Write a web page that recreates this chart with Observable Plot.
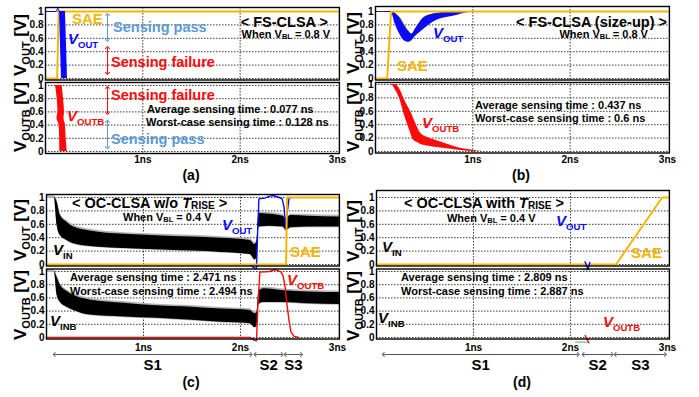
<!DOCTYPE html>
<html><head><meta charset="utf-8">
<script src="https://cdn.jsdelivr.net/npm/d3@7"></script>
<script src="https://cdn.jsdelivr.net/npm/@observablehq/plot@0.6"></script>
<style>
body{margin:0;background:#fff;}
#fig{position:relative;width:699px;height:397px;overflow:hidden;background:#fff;}
</style></head><body><div id="fig"></div>
<script>
// ---------------- data ----------------
const timeTicks = [1, 2, 3];
const voltTicks = [0, 0.2, 0.4, 0.6, 0.8, 1];
const phaseLabels = ["S1", "S2", "S3"];

// (a) FS-CLSA
const aSaeT = [0, 0.12, 0.135, 3.02];
const aSaeV = [0, 0, 1, 1];
const aOutTopT = [0, 0.11, 0.125, 0.145];
const aOutTopV = [1, 1, 1.05, 1];
const aOutBandV = [1, 0.5, 0];
const aOutEarly = [0.144, 0.154, 0.164];
const aOutLate = [0.205, 0.216, 0.226];
const aOutbBandV = [1, 0.8, 0.6, 0.5, 0.4, 0.2, 0];
const aOutbEarly = [0.103, 0.12, 0.128, 0.118, 0.14, 0.145, 0.147];
const aOutbLate = [0.171, 0.185, 0.195, 0.19, 0.205, 0.212, 0.223];

// (b) FS-CLSA (size-up)
const bSaeT = [0, 0.12, 0.16, 3.02];
const bSaeV = [0, 0, 1, 1];
const bOutT  = [0, 0.16, 0.2, 0.25, 0.29, 0.34, 0.37, 0.42, 0.5, 0.63, 0.8, 0.97, 1.1];
const bOutLo = [1, 1, 0.82, 0.66, 0.57, 0.54, 0.56, 0.64, 0.74, 0.87, 0.93, 0.99, 1];
const bOutHi = [1, 1, 0.97, 0.9, 0.8, 0.7, 0.66, 0.76, 0.91, 0.97, 0.99, 1, 1];
const bOutbT  = [0, 0.16, 0.2, 0.25, 0.29, 0.33, 0.36, 0.39, 0.42, 0.46, 0.55, 0.63, 0.8, 0.9, 1.0, 1.1];
const bOutbLo = [1, 1, 0.93, 0.78, 0.58, 0.4, 0.28, 0.17, 0.14, 0.11, 0.08, 0.06, 0.03, 0.01, 0, 0];
const bOutbHi = [1, 1, 1, 0.93, 0.8, 0.68, 0.6, 0.5, 0.4, 0.28, 0.2, 0.16, 0.08, 0.04, 0.02, 0];

// (c) OC-CLSA w/o T_RISE
const cSaeT = [0, 2.47, 2.48, 3.02];
const cSaeV = [0, 0, 1, 1];
const cInT  = [0, 0.08, 0.11, 0.144, 0.21, 0.28, 0.45, 0.8, 1.14, 1.5, 1.8, 2.1, 2.15, 2.17, 2.19, 2.3, 2.44, 2.47, 2.52, 2.7, 3.02];
const cInLo = [1, 1, 0.58, 0.43, 0.36, 0.31, 0.27, 0.24, 0.22, 0.2, 0.18, 0.15, 0.07, 0.1, 0.56, 0.57, 0.56, 0.51, 0.55, 0.56, 0.56];
const cInHi = [1, 1, 0.93, 0.73, 0.63, 0.56, 0.5, 0.45, 0.43, 0.41, 0.39, 0.36, 0.3, 0.35, 0.76, 0.75, 0.72, 0.68, 0.73, 0.72, 0.71];
const cOutT = [2.1, 2.14, 2.165, 2.175, 2.19, 2.25, 2.3, 2.34, 2.4, 2.43, 2.45, 2.465, 2.48, 2.5, 2.52];
const cOutV = [0, -0.05, -0.06, 0.4, 0.98, 0.99, 1.02, 1.03, 1.0, 0.98, 0.85, 0.55, 0.75, 0.98, 1.0];
const cInbT  = [0, 0.08, 0.11, 0.144, 0.21, 0.28, 0.45, 0.8, 1.14, 1.5, 1.8, 2.1, 2.15, 2.17, 2.19, 2.24, 2.45, 2.7, 3.02];
const cInbLo = [1, 1, 0.64, 0.53, 0.46, 0.41, 0.34, 0.31, 0.29, 0.26, 0.23, 0.21, 0.15, 0.17, 0.5, 0.53, 0.53, 0.51, 0.5];
const cInbHi = [1, 1, 0.91, 0.79, 0.7, 0.64, 0.57, 0.52, 0.48, 0.46, 0.43, 0.41, 0.36, 0.38, 0.7, 0.74, 0.71, 0.69, 0.68];
const cOutbT = [0, 2.1, 2.14, 2.165, 2.18, 2.2, 2.3, 2.36, 2.42, 2.44, 2.46, 2.48, 2.5, 2.52, 2.55, 2.6];
const cOutbV = [0, 0, -0.04, -0.05, 0.5, 0.99, 1.0, 1.03, 0.99, 0.93, 0.77, 0.5, 0.26, 0.09, 0.02, 0];
const cPhaseStart = [0.08, 2.15, 2.46];
const cPhaseEnd   = [2.11, 2.43, 2.63];

// (d) OC-CLSA with T_RISE
const dSaeT = [0, 2.47, 2.945, 3.02];
const dSaeV = [0, 0, 1, 1];
const dOutT = [2.15, 2.18, 2.2];
const dOutV = [0.04, -0.07, 0.03];
const dGreenT = [2.12, 2.2];
const dGreenV = [-0.08, -0.08];
const dOutbT = [2.15, 2.17, 2.19];
const dOutbV = [0.03, -0.02, -0.08];
const dGreenbT = [2.05, 2.18];
const dGreenbV = [-0.07, -0.07];
const dPhaseStart = [0.07, 2.13, 2.46];
const dPhaseEnd   = [2.08, 2.43, 2.98];

// ---------------- helpers ----------------
const fig = document.getElementById("fig");
const FONT = '"Liberation Sans", Arial, sans-serif';
const ORANGE = "#f7b500", BLUE = "#0a0aff", RED = "#ff0a0a", LBLUE = "#5b9bd5", GRID = "#222";
const zip = (t, v) => t.map((x, i) => ({t: x, v: v[i]}));
const band = (t, lo, hi) => t.map((x, i) => ({t: x, lo: lo[i], hi: hi[i]}));
const vband = (v, e, l) => v.map((y, i) => ({v: y, e: e[i], l: l[i]}));

function sub(c) {
  const k = c.y0 - c.y1;
  const yDomain = [-(c.fb - c.y0) / k, 1 + (c.y1 - c.ft) / k];
  const plot = Plot.plot({
    width: c.width, height: c.height,
    marginLeft: c.fl - c.left, marginRight: c.left + c.width - c.fr,
    marginTop: c.ft - c.top, marginBottom: c.top + c.height - c.fb,
    style: {background: "transparent", overflow: "visible", fontFamily: FONT, fontWeight: "bold",
            fontSize: "10px", color: "#000", position: "absolute", left: c.left + "px", top: c.top + "px"},
    x: {domain: [0, 3.02], ticks: timeTicks, tickFormat: d => d + "ns", tickSize: 0,
        tickPadding: c.xPad ?? 0, axis: c.xPad == null ? null : "bottom", label: null},
    y: {domain: yDomain, ticks: voltTicks, tickFormat: d => String(d), tickSize: 0, tickPadding: 2, label: null},
    marks: [
      Plot.ruleY(voltTicks, {stroke: GRID, strokeDasharray: "1.5,1.5", strokeWidth: 0.9}),
      Plot.ruleX(timeTicks.slice(0, 2), {stroke: GRID, strokeDasharray: "1.5,1.5", strokeWidth: 0.9}),
      ...c.marks,
      Plot.frame({stroke: "#000", strokeWidth: 1.4})
    ]
  });
  fig.appendChild(plot);
  return {plot, left: c.left, top: c.top};
}

const vArrows = (t, pairs, color) => pairs.flatMap(([a, b]) => {
  const m = (a + b) / 2;
  return [
    Plot.link([0], {x1: () => t, x2: () => t, y1: () => m, y2: () => a, stroke: color, strokeWidth: 1, markerEnd: "arrow"}),
    Plot.link([0], {x1: () => t, x2: () => t, y1: () => m, y2: () => b, stroke: color, strokeWidth: 1, markerEnd: "arrow"})
  ];
});

function phaseMarks(start, end) {
  const segs = phaseLabels.map((s, i) => ({s, a: start[i], b: end[i], m: (start[i] + end[i]) / 2}));
  return [
    Plot.link(segs, {x1: "m", x2: "a", y1: () => 0, y2: () => 0, dy: 17, stroke: "#555", strokeWidth: 1, markerEnd: "arrow"}),
    Plot.link(segs, {x1: "m", x2: "b", y1: () => 0, y2: () => 0, dy: 17, stroke: "#555", strokeWidth: 1, markerEnd: "arrow"}),
    Plot.text(segs, {x: "m", y: () => 0, dy: 28, text: "s", fontSize: 15, fontWeight: "bold", fill: "#000"})
  ];
}

// ---------------- panels ----------------
const pA1 = sub({left: 0, top: 0, width: 345, height: 82, fl: 45, fr: 338.9, ft: 7, fb: 79.5, y1: 11, y0: 78, marks: [
  Plot.line(zip(aSaeT, aSaeV), {x: "t", y: "v", stroke: ORANGE, strokeWidth: 2}),
  Plot.line(zip(aOutTopT, aOutTopV), {x: "t", y: "v", stroke: BLUE, strokeWidth: 1}),
  Plot.areaX(vband(aOutBandV, aOutEarly, aOutLate), {y: "v", x1: "e", x2: "l", fill: BLUE}),
  ...vArrows(0.637, [[0.955, 0.567]], LBLUE),
  ...vArrows(0.637, [[0.46, 0.075]], RED)
]});
const pA2 = sub({left: 0, top: 80, width: 345, height: 92, fl: 45, fr: 338.9, ft: 82, fb: 153, y1: 85, y0: 151, xPad: 2, marks: [
  Plot.areaX(vband(aOutbBandV, aOutbEarly, aOutbLate), {y: "v", x1: "e", x2: "l", fill: RED, curve: "monotone-y"}),
  ...vArrows(0.637, [[0.97, 0.576]], RED),
  ...vArrows(0.637, [[0.455, 0.06]], LBLUE)
]});
const pB1 = sub({left: 345, top: 0, width: 354, height: 82, fl: 375, fr: 668.9, ft: 6, fb: 79.5, y1: 11, y0: 78, marks: [
  Plot.areaY(band(bOutT, bOutLo, bOutHi), {x: "t", y1: "lo", y2: "hi", fill: BLUE, curve: "monotone-x"}),
  Plot.line(zip(bOutT, bOutHi), {x: "t", y: "v", stroke: "#1a1a80", strokeWidth: 1, curve: "monotone-x"}),
  Plot.line(zip(bSaeT, bSaeV), {x: "t", y: "v", stroke: ORANGE, strokeWidth: 2})
]});
const pB2 = sub({left: 345, top: 80, width: 354, height: 92, fl: 375, fr: 668.9, ft: 82, fb: 152.5, y1: 84, y0: 151, xPad: 2.5, marks: [
  Plot.areaY(band(bOutbT, bOutbLo, bOutbHi), {x: "t", y1: "lo", y2: "hi", fill: RED, curve: "monotone-x"})
]});
const pC1 = sub({left: 0, top: 186, width: 345, height: 82, fl: 46, fr: 338.9, ft: 194, fb: 265.5, y1: 197, y0: 264, marks: [
  Plot.areaY(band(cInT, cInLo, cInHi), {x: "t", y1: d => d.lo - 0.01, y2: d => d.hi + 0.025, fill: "#b5b5b5", curve: "monotone-x"}),
  Plot.areaY(band(cInT, cInLo, cInHi), {x: "t", y1: "lo", y2: "hi", fill: "#000", curve: "monotone-x"}),
  Plot.line(zip(cOutT, cOutV), {x: "t", y: "v", stroke: BLUE, strokeWidth: 1.4}),
  Plot.line(zip(cSaeT, cSaeV), {x: "t", y: "v", stroke: ORANGE, strokeWidth: 2})
]});
const pC2 = sub({left: 0, top: 266, width: 345, height: 131, fl: 46, fr: 338.9, ft: 268.5, fb: 338.5, y1: 271, y0: 337, xPad: 4.5, marks: [
  Plot.areaY(band(cInbT, cInbLo, cInbHi), {x: "t", y1: d => d.lo - 0.01, y2: d => d.hi + 0.025, fill: "#b5b5b5", curve: "monotone-x"}),
  Plot.areaY(band(cInbT, cInbLo, cInbHi), {x: "t", y1: "lo", y2: "hi", fill: "#000", curve: "monotone-x"}),
  Plot.line(zip(cOutbT, cOutbV), {x: "t", y: "v", stroke: RED, strokeWidth: 1.4}),
  ...phaseMarks(cPhaseStart, cPhaseEnd)
]});
const pD1 = sub({left: 345, top: 186, width: 354, height: 82, fl: 376, fr: 668.9, ft: 190, fb: 265.5, y1: 197, y0: 264, marks: [
  Plot.line(zip(dSaeT, dSaeV), {x: "t", y: "v", stroke: ORANGE, strokeWidth: 2}),
  Plot.line(zip(dGreenT, dGreenV), {x: "t", y: "v", stroke: "#4caf50", strokeWidth: 1}),
  Plot.line(zip(dOutT, dOutV), {x: "t", y: "v", stroke: BLUE, strokeWidth: 1.4})
]});
const pD2 = sub({left: 345, top: 266, width: 354, height: 131, fl: 376, fr: 668.9, ft: 268.5, fb: 338.5, y1: 271, y0: 337, xPad: 4.5, marks: [
  Plot.line(zip(dGreenbT, dGreenbV), {x: "t", y: "v", stroke: "#4caf50", strokeWidth: 1}),
  Plot.line(zip(dOutbT, dOutbV), {x: "t", y: "v", stroke: RED, strokeWidth: 1.4}),
  ...phaseMarks(dPhaseStart, dPhaseEnd)
]});

// ---------------- text overlay ----------------
const over = d3.select(fig).append("svg").attr("width", 699).attr("height", 397)
  .style("position", "absolute").style("left", "0px").style("top", "0px").style("overflow", "visible")
  .style("font-family", FONT).style("font-weight", "bold").style("white-space", "pre");

function toPage(p, t, v) {
  const sx = p.plot.scale("x"), sy = p.plot.scale("y");
  const lin = (s, d) => s.range[0] + (d - s.domain[0]) / (s.domain[1] - s.domain[0]) * (s.range[1] - s.range[0]);
  return [p.left + lin(sx, t), p.top + lin(sy, v)];
}
function rich(x, y, parts, o) {
  const size = o.size;
  const el = over.append("text").attr("x", x).attr("y", y).attr("text-anchor", o.anchor || "start")
    .attr("fill", o.fill || "#000").style("font-size", size + "px");
  if (o.rotate) el.attr("transform", `rotate(-90 ${x} ${y})`);
  let shift = 0, first = true;
  for (const p of parts) {
    const q = typeof p === "string" ? {s: p} : p;
    const ts = el.append("tspan").text(q.s);
    let target = 0;
    if (q.sub) { ts.style("font-size", (size * q.sub) + "px"); target = size * (q.drop ?? 0.25); }
    if (q.it) ts.style("font-style", "italic");
    ts.attr("dy", (first ? size * 0.35 : 0) + target - shift);
    shift = target; first = false;
  }
}
function note(p, t, v, parts, o) { const [x, y] = toPage(p, t, v); rich(x, y, parts, o); }

const V = (s) => [{s: "V", it: true}, {s, sub: 0.64}];
const vbl = (val) => ["When V", {s: "BL", sub: 0.68, drop: 0.12}, ` = ${val} V`];

// (a)
note(pA1, 0.277, 0.88, ["SAE"], {size: 15, fill: ORANGE});
note(pA1, 0.236, 0.58, V("OUT"), {size: 15, fill: BLUE});
note(pA1, 0.70, 0.76, ["Sensing pass"], {size: 14.5, fill: LBLUE});
note(pA1, 0.678, 0.24, ["Sensing failure"], {size: 14.5, fill: RED});
note(pA1, 2.908, 0.836, ["< FS-CLSA >"], {size: 14.5, anchor: "end"});
note(pA1, 2.93, 0.657, vbl("0.8"), {size: 11, anchor: "end"});
note(pA2, 0.678, 0.85, ["Sensing failure"], {size: 14.5, fill: RED});
note(pA2, 0.226, 0.53, V("OUTB"), {size: 15, fill: RED});
note(pA2, 1.048, 0.636, ["Average sensing time : 0.077 ns"], {size: 11});
note(pA2, 1.038, 0.44, ["Worst-case sensing time : 0.128 ns"], {size: 11});
note(pA2, 0.678, 0.18, ["Sensing pass"], {size: 14.5, fill: LBLUE});
// (b)
note(pB1, 3.0, 0.84, ["< FS-CLSA (size-up) >"], {size: 14.5, anchor: "end"});
note(pB1, 2.805, 0.657, vbl("0.8"), {size: 11, anchor: "end"});
note(pB1, 0.596, 0.67, V("OUT"), {size: 15, fill: BLUE});
note(pB1, 0.226, 0.18, ["SAE"], {size: 15, fill: ORANGE});
note(pB2, 1.027, 0.687, ["Average sensing time : 0.437 ns"], {size: 11});
note(pB2, 1.027, 0.497, ["Worst-case sensing time : 0.6 ns"], {size: 11});
note(pB2, 0.483, 0.418, V("OUTB"), {size: 15, fill: RED});
// (c)
note(pC1, 0.268, 0.91, ["< OC-CLSA w/o ", {s: "T", it: true}, {s: "RISE", sub: 0.7, drop: 0.08}, " >"], {size: 14.5});
note(pC1, 0.794, 0.70, vbl("0.4"), {size: 11});
note(pC1, 1.814, 0.58, V("OUT"), {size: 15, fill: BLUE});
note(pC1, 0.072, 0.21, V("IN"), {size: 15});
note(pC1, 2.515, 0.18, ["SAE"], {size: 15, fill: ORANGE});
note(pC2, 0.247, 0.91, ["Average sensing time : 2.471 ns"], {size: 11});
note(pC2, 0.247, 0.70, ["Worst-case sensing time : 2.494 ns"], {size: 11});
note(pC2, 2.485, 0.86, V("OUTB"), {size: 15, fill: RED});
note(pC2, 0.041, 0.247, V("INB"), {size: 15});
// (d)
note(pD1, 0.289, 0.91, ["< OC-CLSA with ", {s: "T", it: true}, {s: "RISE", sub: 0.7, drop: 0.08}, " >"], {size: 14.5});
note(pD1, 0.732, 0.69, vbl("0.4"), {size: 11});
note(pD1, 1.856, 0.64, V("OUT"), {size: 15, fill: BLUE});
note(pD1, 0.062, 0.26, V("IN"), {size: 15});
note(pD1, 2.63, 0.164, ["SAE"], {size: 15, fill: ORANGE});
note(pD2, 0.258, 0.9, ["Average sensing time : 2.809 ns"], {size: 11});
note(pD2, 0.258, 0.697, ["Worst-case sensing time : 2.887 ns"], {size: 11});
note(pD2, 0.021, 0.288, V("INB"), {size: 15});
note(pD2, 2.34, 0.23, V("OUTB"), {size: 15, fill: RED});

// axis titles
const yTitle = (s) => [{s: "V"}, {s, sub: 0.65}, " [V]"];
[[20, 45, "OUT"], [20, 117, "OUTB"], [353, 43, "OUT"], [353, 117, "OUTB"],
 [20, 230, "OUT"], [20, 305, "OUTB"], [353, 231, "OUT"], [353, 306, "OUTB"]]
  .forEach(([x, y, s]) => rich(x, y, yTitle(s), {size: 17, anchor: "middle", rotate: true}));

// captions
[[191, 175, "(a)"], [521, 175, "(b)"], [191, 382, "(c)"], [522, 382, "(d)"]]
  .forEach(([x, y, s]) => rich(x, y, [s], {size: 14, anchor: "middle"}));
</script></body></html>
